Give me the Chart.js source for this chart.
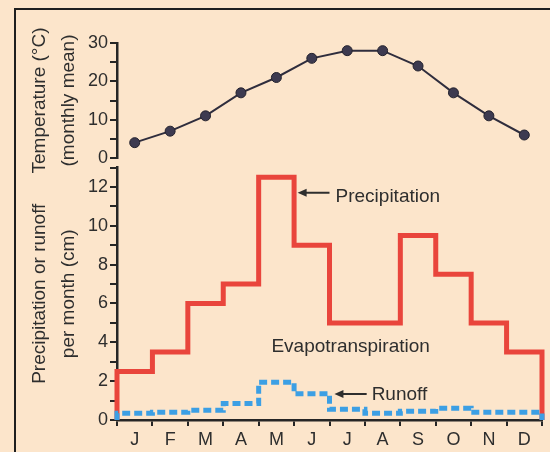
<!DOCTYPE html>
<html><head><meta charset="utf-8">
<script src="https://cdn.jsdelivr.net/npm/chart.js@4"></script>
<style>
html,body{margin:0;padding:0;background:#fce5cb;width:550px;height:452px;overflow:hidden;}
#frame{position:absolute;left:14px;top:8px;right:-5px;bottom:-5px;border-left:2px solid #1f1f1f;border-top:2px solid #1f1f1f;}
#c1{position:absolute;left:0;top:0;}
#c2{position:absolute;left:0;top:150px;}
</style></head><body>
<div id="frame"></div>
<canvas id="c1" width="550" height="185"></canvas>
<canvas id="c2" width="550" height="302"></canvas>
<script>
const months = ['J','F','M','A','M','J','J','A','S','O','N','D'];
const temperature = [4, 7, 11, 17, 21, 26, 28, 28, 24, 17, 11, 6];
const precipitation = [2.5, 3.5, 6, 7, 12.5, 9, 5, 5, 9.5, 7.5, 5, 3.5];
const runoff = [0.35, 0.4, 0.5, 0.85, 1.95, 1.35, 0.55, 0.35, 0.45, 0.6, 0.4, 0.4];
const tempTickLabels = [0, 10, 20, 30];
const precipTickLabels = [0, 2, 4, 6, 8, 10, 12];

const FONT = '"Liberation Sans", Arial, Helvetica, sans-serif';
const INK = '#2e2e2e';
Chart.defaults.font.family = FONT;
Chart.defaults.color = INK;

function stepPoints(vals){
  const pts = [{x:0, y:0}];
  vals.forEach((v,i)=>pts.push({x:i, y:v}));
  pts.push({x:vals.length, y:vals[vals.length-1]});
  pts.push({x:vals.length, y:0});
  return pts;
}

const axisCommon = {
  grid:{drawOnChartArea:false, drawTicks:true, tickLength:7, color:'#262626', lineWidth:2},
  border:{display:true, color:'#262626', width:2.5}
};

new Chart(document.getElementById('c1'), {
  type:'line',
  data:{datasets:[{
    data: temperature.map((v,i)=>({x:i+0.5, y:v})),
    borderColor:'#2f2d3d', borderWidth:2, tension:0,
    pointRadius:5, pointBackgroundColor:'#3d3a50', pointBorderColor:'#24222e', pointBorderWidth:1
  }]},
  options:{
    responsive:false, animation:false, events:[],
    layout:{padding:{left:0, right:8, top:43, bottom:27}},
    plugins:{legend:{display:false}, tooltip:{enabled:false}},
    scales:{
      x:{type:'linear', min:0, max:12, display:false},
      y:{
        min:0, max:30,
        afterFit(s){ s.width = 117; },
        ticks:{stepSize:5, autoSkip:false, padding:2, color:INK, font:{size:18},
          callback:v=> tempTickLabels.includes(v) ? String(v) : ''},
        ...axisCommon,
        title:{display:true, text:['Temperature (°C)','(monthly mean)'], color:INK,
          font:{size:19, lineHeight:1.55}, padding:{top:25, bottom:0}}
      }
    }
  }
});

function arrow(ctx, x1, y, x2){
  ctx.beginPath(); ctx.moveTo(x1+6, y); ctx.lineTo(x2, y); ctx.lineWidth = 2; ctx.strokeStyle = INK; ctx.stroke();
  ctx.beginPath(); ctx.moveTo(x1, y); ctx.lineTo(x1+9, y-4); ctx.lineTo(x1+9, y+4); ctx.closePath(); ctx.fillStyle = INK; ctx.fill();
}

const annotations = {
  id:'annotations',
  afterDatasetsDraw(chart){
    const {ctx, scales:{x, y}} = chart;
    ctx.save();
    ctx.font = '19px ' + FONT;
    ctx.textBaseline = 'alphabetic';
    arrow(ctx, x.getPixelForValue(5.1), y.getPixelForValue(11.7), x.getPixelForValue(6.0));
    ctx.fillStyle = INK;
    ctx.fillText('Precipitation', x.getPixelForValue(6.17), y.getPixelForValue(11.23));
    arrow(ctx, x.getPixelForValue(6.14), y.getPixelForValue(1.34), x.getPixelForValue(7.05));
    ctx.fillStyle = INK;
    ctx.fillText('Runoff', x.getPixelForValue(7.19), y.getPixelForValue(1.03));
    ctx.fillText('Evapotranspiration', x.getPixelForValue(4.36), y.getPixelForValue(3.5));
    ctx.restore();
  }
};

new Chart(document.getElementById('c2'), {
  type:'line',
  data:{datasets:[
    {label:'Runoff', data: stepPoints(runoff), stepped:'before', order:0,
      borderColor:'#3c9fe4', borderWidth:5, borderDash:[8,4], pointRadius:0, fill:false, clip:false},
    {label:'Precipitation', data: stepPoints(precipitation), stepped:'before', order:1,
      borderColor:'#e9453c', borderWidth:5, pointRadius:0, fill:false, clip:false, borderJoinStyle:'miter'}
  ]},
  options:{
    responsive:false, animation:false, events:[],
    layout:{padding:{left:0, right:8, top:17.5, bottom:0}},
    plugins:{legend:{display:false}, tooltip:{enabled:false}},
    scales:{
      x:{type:'linear', min:0, max:12,
        afterFit(s){ s.height = 32; },
        afterBuildTicks(s){ s.ticks = []; for(let i=0;i<=24;i++) s.ticks.push({value:i/2}); },
        ticks:{autoSkip:false, maxRotation:0, padding:3, color:INK, font:{size:18},
          callback:v=> (v % 1 === 0.5) ? months[Math.floor(v)] : ''},
        grid:{drawOnChartArea:false, drawTicks:true, tickLength:6, lineWidth:2,
          color:ctx=> (ctx.tick && ctx.tick.value % 1 === 0) ? '#262626' : 'rgba(0,0,0,0)'},
        border:{display:true, color:'#262626', width:2.5}
      },
      y:{
        min:0, max:13,
        afterFit(s){ s.width = 117; },
        ticks:{stepSize:1, autoSkip:false, padding:2, color:INK, font:{size:18},
          callback:v=> precipTickLabels.includes(v) ? String(v) : ''},
        ...axisCommon,
        title:{display:true, text:['Precipitation or runoff','per month (cm)'], color:INK,
          font:{size:19, lineHeight:1.55}, padding:{top:25, bottom:0}}
      }
    }
  },
  plugins:[annotations]
});
</script>
</body></html>
